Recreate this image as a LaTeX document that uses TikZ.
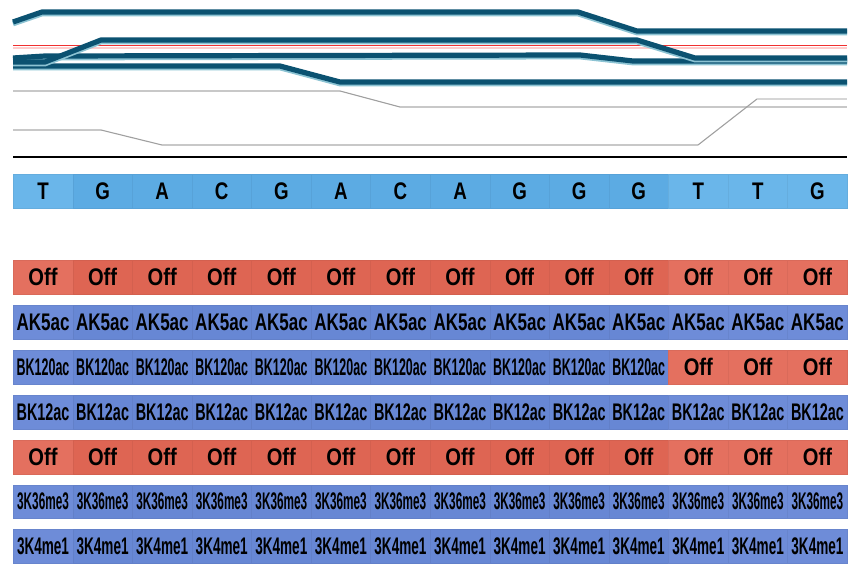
\documentclass[tikz,border=0pt]{standalone}
\usepackage{fontspec}
\setmainfont{Liberation Sans}
\definecolor{dnaL}{HTML}{6AB6EA}
\definecolor{dnaD}{HTML}{5CABE3}
\definecolor{offL}{HTML}{E4705F}
\definecolor{offD}{HTML}{DE6553}
\definecolor{bluL}{HTML}{6E8CD8}
\definecolor{bluD}{HTML}{6787D4}
\definecolor{trkD}{HTML}{0B5271}
\definecolor{trkS}{HTML}{8CC3D3}
\definecolor{grayT}{HTML}{C8C8C8}
\definecolor{redT}{HTML}{F03030}
\newcommand\cellrow[6]{%
  \foreach \i in {0,...,13}{%
    \pgfmathtruncatemacro\lt{(\i==0)||(\i>10)}%
    \ifnum\lt=1 \def\cc{#3}\else\def\cc{#4}\fi
    \node[cell, fill=\cc, draw=\cc!95!black] (#1-\i) at ({13+59.57*\i},#2) {\scalebox{#5}[1]{#6}};
  }}
\newcommand\trk[1]{\draw[shadowtrk] #1; \draw[darktrk] #1;}
\begin{document}
\begin{tikzpicture}[x=1pt,y=-1pt,
  cell/.style={anchor=north west, minimum width=59.57pt, minimum height=33.5pt,
    inner sep=0pt, line width=0.5pt, font=\fontsize{24}{24}\selectfont\bfseries},
  darktrk/.style={draw=trkD, line width=5.2pt, line join=round},
  shadowtrk/.style={draw=trkS, line width=5.2pt, line join=round, yshift=-1.8pt},
  graytrk/.style={draw=grayT, line width=2.2pt},
  slope/.style={draw=grayT!80!black, line width=1.1pt}]
\useasboundingbox (0,0) rectangle (859,575);

% --- tracks ---
\draw[draw=red!20, line width=2pt] (13,48) -- (847,48);
\draw[draw=redT, line width=1pt] (13,46) -- (847,46);
\trk{(13,22) -- (42,12) -- (578,12) -- (637,31) -- (847,31)}
\trk{(13,58) -- (45,56) -- (580,55) -- (633,61) -- (847,61)}
\trk{(13,66) -- (280,66) -- (340,82) -- (847,82)}
\trk{(13,62) -- (45,62) -- (101,40) -- (637,40) -- (695,58) -- (847,58)}
\draw[graytrk] (13,91) -- (340,91);
\draw[slope] (340,91) -- (400,107);
\draw[graytrk] (400,107) -- (847,107);
\draw[graytrk] (13,130) -- (101,130);
\draw[slope] (101,130) -- (162,145);
\draw[graytrk] (162,145) -- (698,145);
\draw[slope] (698,145) -- (757,99);
\draw[graytrk, draw=grayT!75] (757,99) -- (847,99);
\draw[black, line width=1.4pt] (13,157) -- (847,157);

% --- DNA sequence ---
\foreach \i/\b in {0/T,1/G,2/A,3/C,4/G,5/A,6/C,7/A,8/G,9/G,10/G,11/T,12/T,13/G}{%
  \pgfmathtruncatemacro\lt{(\i==0)||(\i>10)}%
  \ifnum\lt=1 \def\cc{dnaL}\else\def\cc{dnaD}\fi
  \node[cell, fill=\cc, draw=\cc!95!black] (dna-\i) at ({13+59.57*\i},174) {\scalebox{0.78}[1]{\b}};
}

% --- state rows ---
\cellrow{offA}{260}{offL}{offD}{0.84}{Off}
\cellrow{ak}{305}{bluL}{bluD}{0.71}{AK5ac}
\foreach \i in {0,...,10}{%
  \pgfmathtruncatemacro\lt{(\i==0)}%
  \ifnum\lt=1 \def\cc{bluL}\else\def\cc{bluD}\fi
  \node[cell, fill=\cc, draw=\cc!95!black] (bka-\i) at ({13+59.57*\i},350) {\scalebox{0.52}[1]{BK120ac}};
}
\foreach \i in {11,12,13}{%
  \node[cell, fill=offL, draw=offL!95!black] (bka-\i) at ({13+59.57*\i},350) {\scalebox{0.84}[1]{Off}};
}
\cellrow{bkb}{395}{bluL}{bluD}{0.6}{BK12ac}
\cellrow{offB}{440}{offL}{offD}{0.84}{Off}
\cellrow{kc}{484.5}{bluL}{bluD}{0.49}{3K36me3}
\cellrow{kd}{529}{bluL}{bluD}{0.565}{3K4me1}
\end{tikzpicture}
\end{document}
